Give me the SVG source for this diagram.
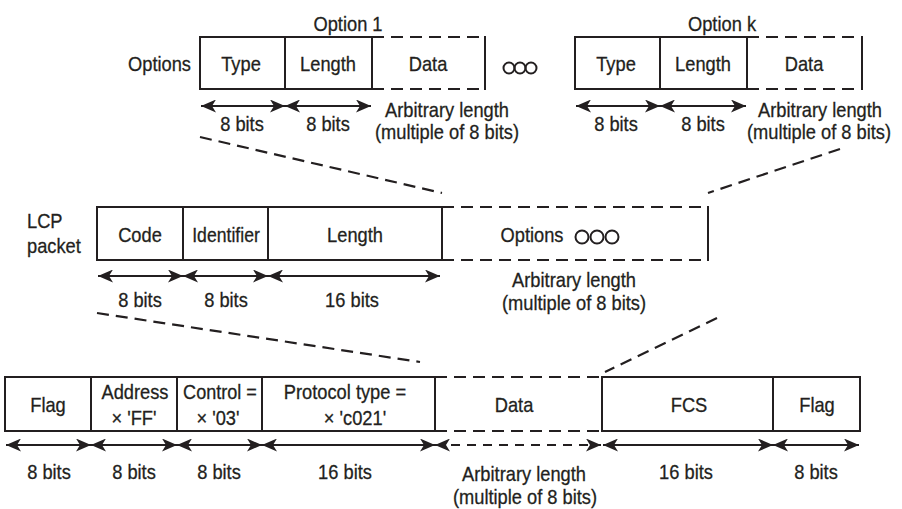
<svg xmlns="http://www.w3.org/2000/svg" width="902" height="509" viewBox="0 0 902 509">
  <defs>
    <marker id="ah" viewBox="0 0 15 13" refX="15" refY="6.5" markerWidth="15" markerHeight="13" markerUnits="userSpaceOnUse" orient="auto-start-reverse">
      <path d="M0,0 L15,6.5 L0,13 L4,6.5 z" fill="#231f20"/>
    </marker>
    <style>
      text { font-family: "Liberation Sans", Arial, sans-serif; font-size: 21px; fill: #231f20; stroke: #231f20; stroke-width: 0.3; }
      .c { text-anchor: middle; }
      .r { text-anchor: end; }
      .box { fill: #fff; stroke: #231f20; stroke-width: 2; }
      .ln { stroke: #231f20; stroke-width: 2; fill: none; }
      .dash { stroke: #231f20; stroke-width: 2.2; fill: none; stroke-dasharray: 12 7; }
      .arr { stroke: #231f20; stroke-width: 2; fill: none; marker-start: url(#ah); marker-end: url(#ah); }
      .darr { stroke: #231f20; stroke-width: 2; fill: none; stroke-dasharray: 9 7; marker-start: url(#ah); marker-end: url(#ah); }
      .dot { fill: none; stroke: #231f20; stroke-width: 2; }
    </style>
  </defs>
  <rect width="902" height="509" fill="#fff"/>

  <!-- expansion guides between layers -->
  <g id="connectors">
    <line class="dash" x1="200" y1="137" x2="442" y2="193"/>
    <line class="dash" x1="840" y1="149" x2="708" y2="193"/>
    <line class="dash" x1="97" y1="313" x2="420" y2="362"/>
    <line class="dash" x1="717" y1="318" x2="605" y2="372"/>
  </g>

  <!-- Options layer (text is narrowed horizontally to a condensed face) -->
  <g id="options-label">
    <text class="r" transform="translate(191 71) scale(0.87 1)">Options</text>
  </g>
  <g id="option-1">
    <text class="c" transform="translate(348 31) scale(0.87 1)">Option 1</text>
    <rect class="box" x="200" y="37" width="85" height="52"/>
    <rect class="box" x="285" y="37" width="87" height="52"/>
    <line class="dash" x1="372" y1="37" x2="485" y2="37"/>
    <line class="dash" x1="372" y1="89" x2="485" y2="89"/>
    <line class="ln" x1="485" y1="36" x2="485" y2="90"/>
    <text class="c" transform="translate(241 71) scale(0.87 1)">Type</text>
    <text class="c" transform="translate(328 71) scale(0.87 1)">Length</text>
    <text class="c" transform="translate(428 71) scale(0.87 1)">Data</text>
    <line class="arr" x1="201" y1="106" x2="285" y2="106"/>
    <line class="arr" x1="285" y1="106" x2="371" y2="106"/>
    <text class="c" transform="translate(242 131) scale(0.87 1)">8 bits</text>
    <text class="c" transform="translate(328 131) scale(0.87 1)">8 bits</text>
    <text class="c" transform="translate(447 117) scale(0.87 1)">Arbitrary length</text>
    <text class="c" transform="translate(447 139) scale(0.87 1)">(multiple of 8 bits)</text>
  </g>
  <g id="option-ellipsis">
    <circle class="dot" cx="509" cy="68" r="5.5"/>
    <circle class="dot" cx="520" cy="68" r="5.5"/>
    <circle class="dot" cx="531" cy="68" r="5.5"/>
  </g>
  <g id="option-k">
    <text class="c" transform="translate(722 31) scale(0.87 1)">Option k</text>
    <rect class="box" x="575" y="37" width="85" height="52"/>
    <rect class="box" x="660" y="37" width="87" height="52"/>
    <line class="dash" x1="747" y1="37" x2="862" y2="37"/>
    <line class="dash" x1="747" y1="89" x2="862" y2="89"/>
    <line class="ln" x1="862" y1="36" x2="862" y2="90"/>
    <text class="c" transform="translate(616 71) scale(0.87 1)">Type</text>
    <text class="c" transform="translate(703 71) scale(0.87 1)">Length</text>
    <text class="c" transform="translate(804 71) scale(0.87 1)">Data</text>
    <line class="arr" x1="576" y1="106" x2="660" y2="106"/>
    <line class="arr" x1="660" y1="106" x2="746" y2="106"/>
    <text class="c" transform="translate(616 131) scale(0.87 1)">8 bits</text>
    <text class="c" transform="translate(703 131) scale(0.87 1)">8 bits</text>
    <text class="c" transform="translate(820 117) scale(0.87 1)">Arbitrary length</text>
    <text class="c" transform="translate(819 139) scale(0.87 1)">(multiple of 8 bits)</text>
  </g>

  <!-- LCP packet layer -->
  <g id="lcp-label">
    <text transform="translate(27 228) scale(0.87 1)">LCP</text>
    <text transform="translate(27 253) scale(0.87 1)">packet</text>
  </g>
  <g id="lcp-packet">
    <rect class="box" x="97" y="207" width="86" height="53"/>
    <rect class="box" x="183" y="207" width="85" height="53"/>
    <rect class="box" x="268" y="207" width="174" height="53"/>
    <text class="c" transform="translate(140 242) scale(0.87 1)">Code</text>
    <text class="c" transform="translate(226 242) scale(0.84 1)">Identifier</text>
    <text class="c" transform="translate(355 242) scale(0.87 1)">Length</text>
    <line class="dash" x1="442" y1="207" x2="708" y2="207"/>
    <line class="dash" x1="442" y1="260" x2="708" y2="260"/>
    <line class="ln" x1="708" y1="206" x2="708" y2="261"/>
    <text class="c" transform="translate(532 242) scale(0.87 1)">Options</text>
    <circle class="dot" cx="582" cy="237" r="6.5"/>
    <circle class="dot" cx="597" cy="237" r="6.5"/>
    <circle class="dot" cx="612" cy="237" r="6.5"/>
    <line class="arr" x1="98" y1="276" x2="183" y2="276"/>
    <line class="arr" x1="183" y1="276" x2="268" y2="276"/>
    <line class="arr" x1="268" y1="276" x2="440" y2="276"/>
    <text class="c" transform="translate(140 307) scale(0.87 1)">8 bits</text>
    <text class="c" transform="translate(226 307) scale(0.87 1)">8 bits</text>
    <text class="c" transform="translate(352 307) scale(0.87 1)">16 bits</text>
    <text class="c" transform="translate(574 287) scale(0.87 1)">Arbitrary length</text>
    <text class="c" transform="translate(574 310) scale(0.87 1)">(multiple of 8 bits)</text>
  </g>

  <!-- PPP frame layer -->
  <g id="ppp-frame">
    <rect class="box" x="5" y="377" width="86" height="54"/>
    <rect class="box" x="91" y="377" width="86" height="54"/>
    <rect class="box" x="177" y="377" width="85" height="54"/>
    <rect class="box" x="262" y="377" width="173" height="54"/>
    <line class="dash" x1="435" y1="377" x2="602" y2="377"/>
    <line class="dash" x1="435" y1="431" x2="602" y2="431"/>
    <rect class="box" x="602" y="377" width="171" height="54"/>
    <rect class="box" x="773" y="377" width="87" height="54"/>
    <text class="c" transform="translate(48 412) scale(0.87 1)">Flag</text>
    <text class="c" transform="translate(135 399) scale(0.87 1)">Address</text>
    <text class="c" transform="translate(134 425) scale(0.87 1)">× 'FF'</text>
    <text class="c" transform="translate(220 399) scale(0.86 1)">Control =</text>
    <text class="c" transform="translate(218 425) scale(0.87 1)">× '03'</text>
    <text class="c" transform="translate(345 399) scale(0.87 1)">Protocol type =</text>
    <text class="c" transform="translate(355 425) scale(0.87 1)">× 'c021'</text>
    <text class="c" transform="translate(514 412) scale(0.87 1)">Data</text>
    <text class="c" transform="translate(689 412) scale(0.87 1)">FCS</text>
    <text class="c" transform="translate(817 412) scale(0.87 1)">Flag</text>
    <line class="arr" x1="6" y1="445" x2="91" y2="445"/>
    <line class="arr" x1="91" y1="445" x2="177" y2="445"/>
    <line class="arr" x1="177" y1="445" x2="262" y2="445"/>
    <line class="arr" x1="262" y1="445" x2="435" y2="445"/>
    <line class="darr" x1="435" y1="445" x2="601" y2="445"/>
    <line class="arr" x1="603" y1="445" x2="773" y2="445"/>
    <line class="arr" x1="773" y1="445" x2="859" y2="445"/>
    <text class="c" transform="translate(49 479) scale(0.87 1)">8 bits</text>
    <text class="c" transform="translate(134 479) scale(0.87 1)">8 bits</text>
    <text class="c" transform="translate(219 479) scale(0.87 1)">8 bits</text>
    <text class="c" transform="translate(345 479) scale(0.87 1)">16 bits</text>
    <text class="c" transform="translate(524 481) scale(0.87 1)">Arbitrary length</text>
    <text class="c" transform="translate(525 504) scale(0.87 1)">(multiple of 8 bits)</text>
    <text class="c" transform="translate(686 479) scale(0.87 1)">16 bits</text>
    <text class="c" transform="translate(816 479) scale(0.87 1)">8 bits</text>
  </g>
</svg>
